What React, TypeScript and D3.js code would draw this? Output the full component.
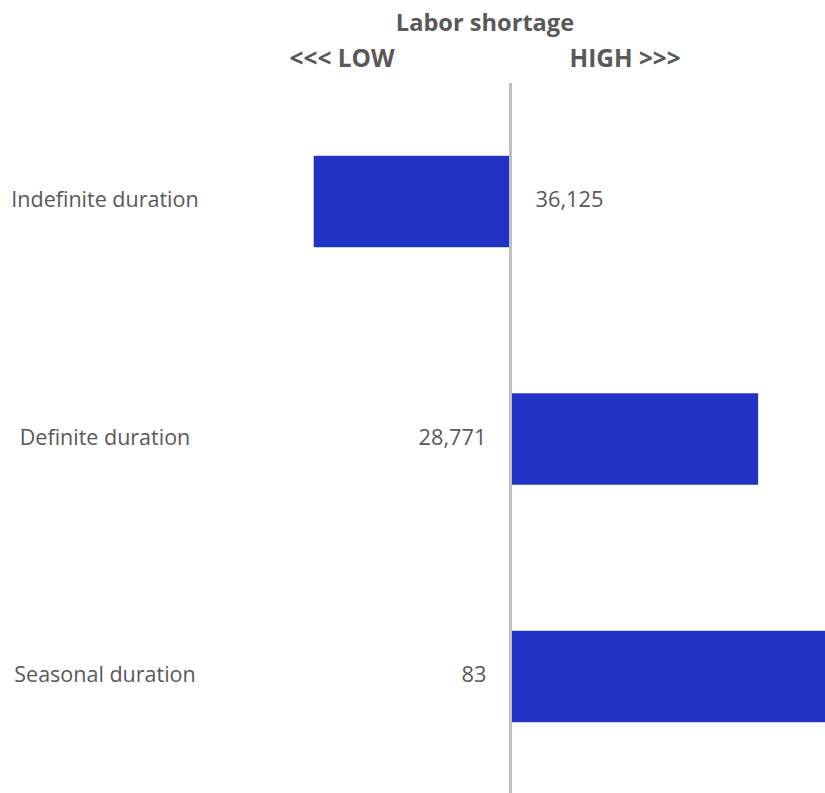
import React from "react";
import * as d3 from "d3";

const categories: string[] = ["Indefinite duration", "Definite duration", "Seasonal duration"];
const shortageScore: number[] = [-0.6, 0.755, 1.0];
const valueLabels: string[] = ["36,125", "28,771", "83"];
const chartTitle = "Labor shortage";
const lowLabel = "<<< LOW";
const highLabel = "HIGH >>>";

const W = 825;
const H = 793;
const FONT = "'Open Sans', sans-serif";
const TEXT = "#595959";
const BAR = "#2132C5";

export default function App() {
  const x = d3.scaleLinear().domain([-1, 1]).range([510.5 - 328, 510.5 + 328]);
  const y = d3
    .scaleBand<string>()
    .domain(categories)
    .range([82.75, 795.25])
    .paddingInner(0.615)
    .paddingOuter(0.3075);
  const x0 = x(0);
  const bw = y.bandwidth();

  return (
    <div style={{ position: "absolute", left: 0, top: 0 }}>
      <svg width={W} height={H} style={{ display: "block", background: "#fff" }}>
        <text x={485} y={31} textAnchor="middle" fontFamily={FONT} fontWeight="bold" fontSize={23.6} fill={TEXT}>
          {chartTitle}
        </text>
        <text x={x0 - 116} y={67} textAnchor="end" fontFamily={FONT} fontWeight="bold" fontSize={24.4} fill={TEXT}>
          {lowLabel}
        </text>
        <text x={x0 + 59} y={67} textAnchor="start" fontFamily={FONT} fontWeight="bold" fontSize={24.4} fill={TEXT}>
          {highLabel}
        </text>
        {categories.map((c, i) => {
          const v = shortageScore[i];
          const yy = y(c) as number;
          const xl = Math.min(x(v), x0);
          const w = Math.abs(x(v) - x0);
          const cy = yy + bw / 2 - 2;
          return (
            <g key={c}>
              <rect x={xl} y={yy} width={w} height={bw} fill={BAR} />
              <text x={105} y={cy} dy="0.35em" textAnchor="middle" fontFamily={FONT} fontSize={21.5} fill={TEXT}>
                {c}
              </text>
              <text
                x={v < 0 ? x0 + 25 : x0 - 24}
                y={cy}
                dy="0.35em"
                textAnchor={v < 0 ? "start" : "end"}
                fontFamily={FONT}
                fontSize={21.8}
                fill={TEXT}
              >
                {valueLabels[i]}
              </text>
            </g>
          );
        })}
        <line x1={x0} x2={x0} y1={83} y2={H} stroke="#BFBFBF" strokeWidth={3} />
      </svg>
    </div>
  );
}
